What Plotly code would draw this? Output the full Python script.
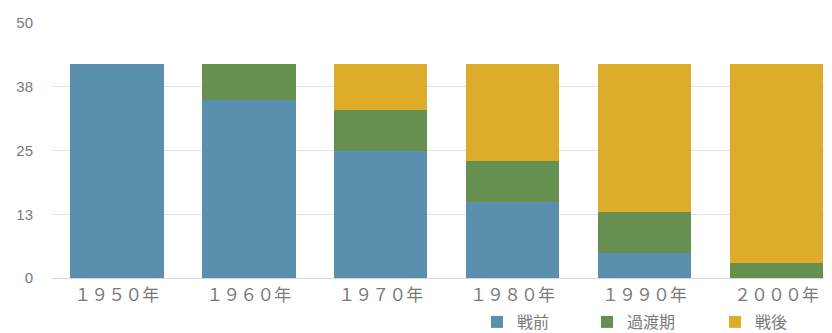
import plotly.graph_objects as go

categories = ["１９５０年", "１９６０年", "１９７０年", "１９８０年", "１９９０年", "２０００年"]
series_names = ["戦前", "過渡期", "戦後"]
prewar = [42, 35, 25, 15, 5, 0]
transition = [0, 7, 8, 8, 8, 3]
postwar = [0, 0, 9, 19, 29, 39]
y_tick_vals = [0, 12.5, 25, 37.5, 50]
y_tick_text = ["0", "13", "25", "38", "50"]

colors = ["#5b8fae", "#66904f", "#dcac2a"]
values = [prewar, transition, postwar]
legend_ids = ["legend", "legend2", "legend3"]

# the page body adds an 8px offset; the figure is sized to fill the rest of the window
W, H = 824, 325
legend_left = [469, 579, 707]
legend_mid_y = 314

fig = go.Figure()
for name, vals, col, lid in zip(series_names, values, colors, legend_ids):
    fig.add_trace(go.Bar(
        x=categories, y=vals, name=name, width=0.71,
        marker=dict(color=col, line=dict(width=0)),
        legend=lid,
    ))

legend_common = dict(
    orientation="h", xref="container", yref="container",
    yanchor="middle", xanchor="left",
    font=dict(family="Noto Sans CJK JP", size=16, color="#7a7a7a"),
    bgcolor="rgba(0,0,0,0)",
)
layout_legends = {}
for lid, lx in zip(legend_ids, legend_left):
    layout_legends[lid] = dict(legend_common, x=lx / W, y=1 - legend_mid_y / H)

fig.update_layout(
    width=W, height=H,
    barmode="stack",
    plot_bgcolor="white", paper_bgcolor="white",
    margin=dict(l=44, r=0, t=15, b=55),
    showlegend=True,
    xaxis=dict(
        range=[-0.49, 5.42], showgrid=False, zeroline=False, showline=False,
        tickfont=dict(family="Noto Sans CJK JP", size=17, color="#7a7a7a"),
        ticks="", ticklabelstandoff=5, fixedrange=True,
    ),
    yaxis=dict(
        range=[0, 50], tickvals=y_tick_vals, ticktext=y_tick_text,
        showgrid=True, gridcolor="#e2e2e2", gridwidth=1,
        zeroline=True, zerolinecolor="#d8d8d8", zerolinewidth=1,
        showline=False, ticks="", ticklabelstandoff=18,
        tickfont=dict(family="Liberation Sans, Arial", size=15, color="#7a7a7a"),
    ),
    **layout_legends,
)

fig.write_html("out.html")
